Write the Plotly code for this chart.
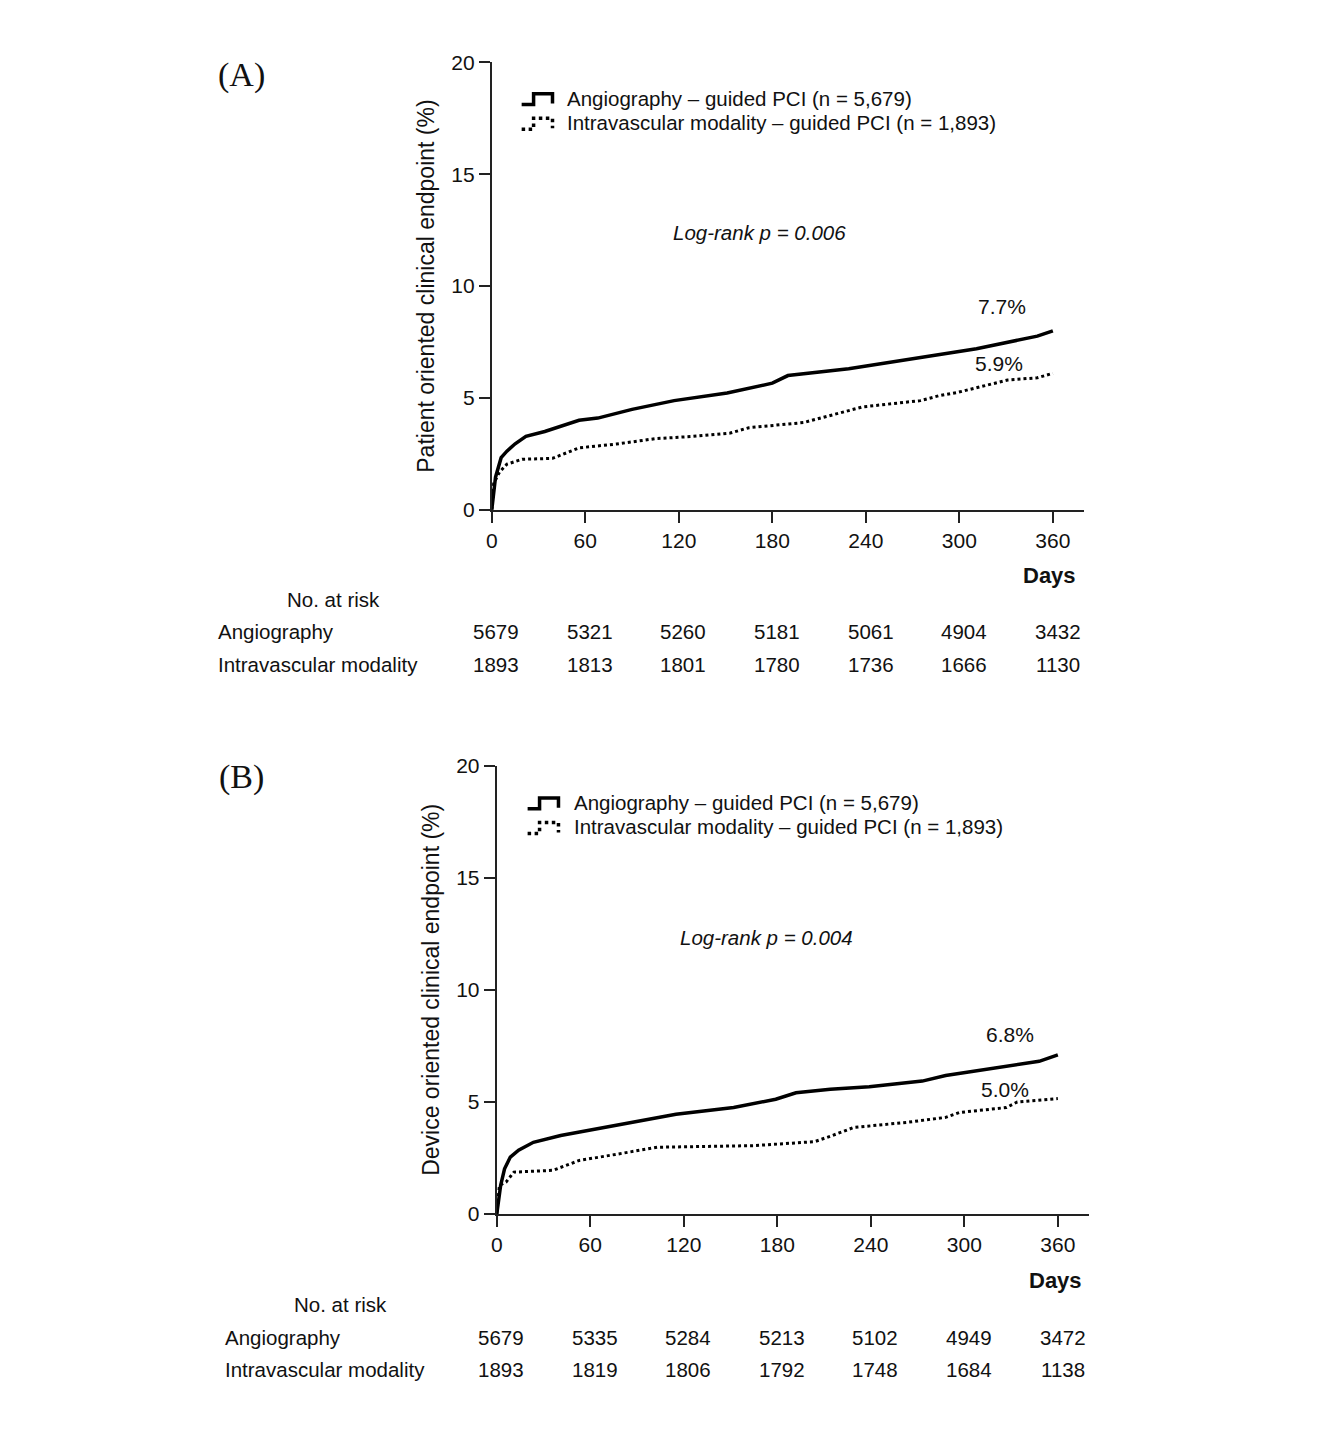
import plotly.graph_objects as go

OFF = 8  # default page body margin
FW, FH = 1300, 1400  # keep the page inside the 1325x1448 window

# ---------------- data ----------------
days_ticks = [0, 60, 120, 180, 240, 300, 360]

# Panel A
a_angio_days = [0, 2.4, 6, 9.7, 15, 21.9, 34, 43.8, 56, 68, 90, 117, 151, 180, 190, 229, 272, 311, 350, 360]
a_angio_vals = [0, 1.46, 2.33, 2.62, 2.95, 3.28, 3.5, 3.72, 4.0, 4.1, 4.49, 4.88, 5.22, 5.66, 6.0, 6.3, 6.78, 7.2, 7.76, 8.0]
a_ivus_days = [0, 1.2, 4.9, 9.7, 19.5, 39, 56, 80, 105, 129, 153, 165, 200, 214, 229, 238, 275, 287, 299, 331, 350, 360]
a_ivus_vals = [0, 1.17, 1.68, 2.04, 2.26, 2.3, 2.77, 2.94, 3.18, 3.28, 3.43, 3.67, 3.9, 4.15, 4.45, 4.6, 4.88, 5.1, 5.25, 5.8, 5.9, 6.1]
a_risk_angio = [5679, 5321, 5260, 5181, 5061, 4904, 3432]
a_risk_ivus = [1893, 1813, 1801, 1780, 1736, 1666, 1130]

# Panel B
b_angio_days = [0, 2.5, 5, 8.7, 14, 23.5, 41, 63, 85, 115, 152, 179, 192, 214, 239, 273, 288, 313, 348, 360]
b_angio_vals = [0, 1.28, 2.02, 2.54, 2.85, 3.2, 3.5, 3.79, 4.09, 4.45, 4.75, 5.12, 5.41, 5.56, 5.68, 5.93, 6.18, 6.45, 6.81, 7.1]
b_ivus_days = [0, 1.7, 6, 11, 36, 53, 78, 103, 165, 204, 214, 229, 263, 288, 297, 327, 334, 360]
b_ivus_vals = [0, 1.28, 1.43, 1.87, 1.95, 2.39, 2.68, 2.98, 3.05, 3.23, 3.47, 3.86, 4.09, 4.31, 4.53, 4.75, 5.0, 5.15]
b_risk_angio = [5679, 5335, 5284, 5213, 5102, 4949, 3472]
b_risk_ivus = [1893, 1819, 1806, 1792, 1748, 1684, 1138]

name_angio = "Angiography \u2013 guided PCI (n = 5,679)"
name_ivus = "Intravascular modality \u2013 guided PCI (n = 1,893)"

FONT = "Liberation Sans, Arial, sans-serif"
SERIF = "Liberation Serif, Times New Roman, serif"
TXT = "#111"
FS = 20.5


def px(x):
    return (x - OFF) / FW


def py(y):
    return 1 - (y - OFF) / FH


fig = go.Figure()

fig.add_trace(go.Scatter(x=a_angio_days, y=a_angio_vals, mode="lines", name=name_angio,
                         line=dict(color="black", width=3.5), xaxis="x", yaxis="y"))
fig.add_trace(go.Scatter(x=a_ivus_days, y=a_ivus_vals, mode="lines", name=name_ivus,
                         line=dict(color="black", width=3, dash="dot"), xaxis="x", yaxis="y"))
fig.add_trace(go.Scatter(x=b_angio_days, y=b_angio_vals, mode="lines", name=name_angio,
                         line=dict(color="black", width=3.5), xaxis="x2", yaxis="y2"))
fig.add_trace(go.Scatter(x=b_ivus_days, y=b_ivus_vals, mode="lines", name=name_ivus,
                         line=dict(color="black", width=3, dash="dot"), xaxis="x2", yaxis="y2"))

axis_common = dict(showgrid=False, zeroline=False, showline=True, linecolor="#222", linewidth=2,
                   ticks="outside", ticklen=11, tickwidth=2, tickcolor="#222",
                   tickfont=dict(family=FONT, size=21, color=TXT))

xr = [0, 380]
title_font = dict(family=FONT, size=23, color=TXT)
fig.update_layout(
    width=FW, height=FH,
    margin=dict(l=0, r=0, t=0, b=0),
    paper_bgcolor="white", plot_bgcolor="white",
    font=dict(family=FONT, color=TXT),
    showlegend=False,
    xaxis=dict(domain=[px(488), px(1083)], range=xr, tickvals=days_ticks, anchor="y", **axis_common),
    yaxis=dict(domain=[py(506), py(51)], range=[0, 20], tickvals=[0, 5, 10, 15, 20], anchor="x",
               title=dict(text="Patient oriented clinical endpoint (%)", font=title_font, standoff=10),
               **axis_common),
    xaxis2=dict(domain=[px(493), px(1088)], range=xr, tickvals=days_ticks, anchor="y2", **axis_common),
    yaxis2=dict(domain=[py(1222), py(766)], range=[0, 20], tickvals=[0, 5, 10, 15, 20], anchor="x2",
                title=dict(text="Device oriented clinical endpoint (%)", font=title_font, standoff=10),
                **axis_common),
)

ann = []


def text(x, y, s, size=FS, xanchor="center", family=FONT, xref="paper", yref="paper"):
    ann.append(dict(x=x, y=y, xref=xref, yref=yref, text=s, showarrow=False,
                    xanchor=xanchor, yanchor="middle", font=dict(family=family, size=size, color=TXT)))


shapes = []


def glyph(x0, y, dash):
    # small step-shaped legend key: low-left, step up, high, drop at right
    path = (f"M {px(x0)},{py(y + 5)} L {px(x0 + 12)},{py(y + 5)} L {px(x0 + 12)},{py(y - 6)} "
            f"L {px(x0 + 31)},{py(y - 6)} L {px(x0 + 31)},{py(y + 4)}")
    shapes.append(dict(type="path", xref="paper", yref="paper", path=path,
                       line=dict(color="black", width=3.5, dash=dash)))


# legends
glyph(518, 89, "solid")
glyph(518, 114, "dot")
text(px(562), py(88), name_angio, xanchor="left")
text(px(562), py(112), name_ivus, xanchor="left")
glyph(524, 805, "solid")
glyph(524, 830, "dot")
text(px(569), py(804), name_angio, xanchor="left")
text(px(569), py(828), name_ivus, xanchor="left")

# panel labels
text(px(237), py(64), "(A)", size=34, family=SERIF)
text(px(237), py(778), "(B)", size=34, family=SERIF)

# log-rank
text(px(757), py(224), "<i>Log-rank p = 0.006</i>")
text(px(764), py(941), "<i>Log-rank p = 0.004</i>")

# percent labels (data coords)
text(327.6, 9.08, "7.7%", size=21, xref="x", yref="y")
text(325.7, 6.55, "5.9%", size=21, xref="x", yref="y")
text(329, 8.0, "6.8%", size=21, xref="x2", yref="y2")
text(326, 5.56, "5.0%", size=21, xref="x2", yref="y2")

# Days
text(px(1077), py(573), "<b>Days</b>", size=22, xanchor="right")
text(px(1083), py(1290), "<b>Days</b>", size=22, xanchor="right")

# risk tables
text(px(329), py(597), "No. at risk")
text(px(211), py(630), "Angiography", xanchor="left")
text(px(211), py(663), "Intravascular modality", xanchor="left")
for d, a, b in zip(days_ticks, a_risk_angio, a_risk_ivus):
    text(d + 3, py(630), str(a), xref="x")
    text(d + 3, py(663), str(b), xref="x")

text(px(336), py(1314), "No. at risk")
text(px(218), py(1347), "Angiography", xanchor="left")
text(px(218), py(1380), "Intravascular modality", xanchor="left")
for d, a, b in zip(days_ticks, b_risk_angio, b_risk_ivus):
    text(d + 3, py(1347), str(a), xref="x2")
    text(d + 3, py(1380), str(b), xref="x2")

fig.update_layout(annotations=ann, shapes=shapes)
fig.write_html("out.html")
